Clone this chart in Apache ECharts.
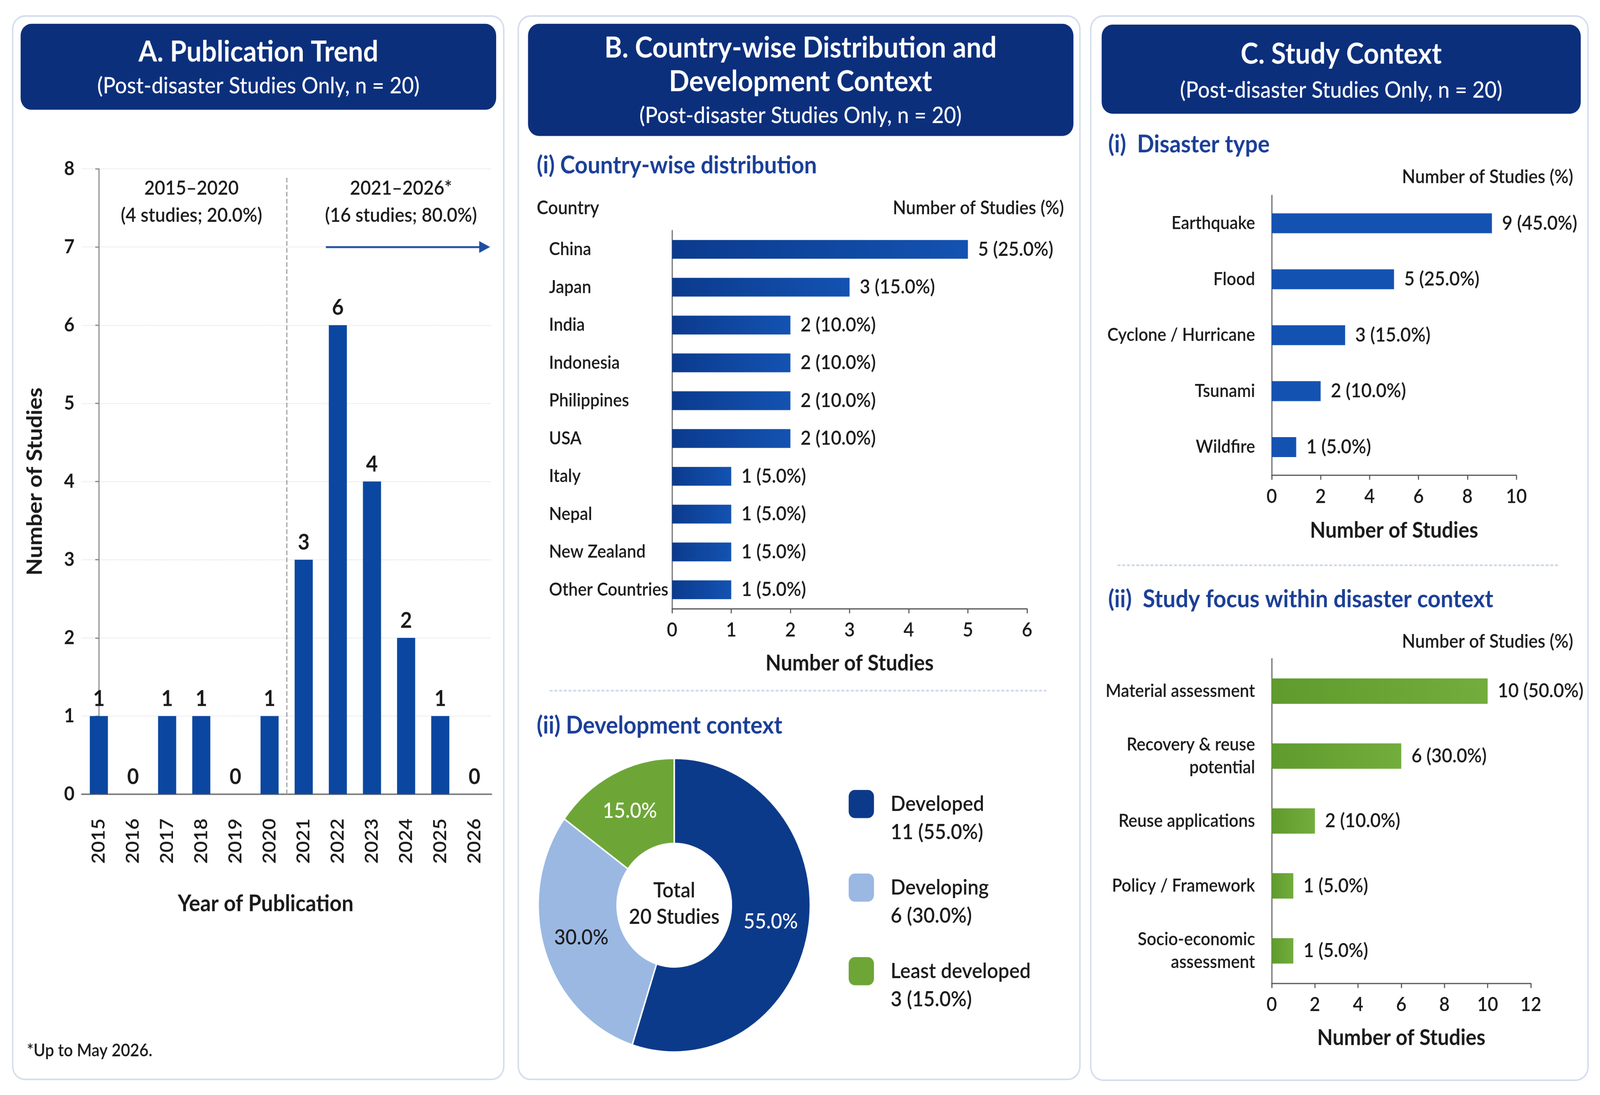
<!DOCTYPE html>
<html>
<head>
<meta charset="utf-8">
<title>Post-disaster studies overview</title>
<script src="https://cdn.jsdelivr.net/npm/echarts@6/dist/echarts.min.js"></script>
<style>
  html, body { margin: 0; padding: 0; background: #ffffff; overflow: hidden; }
  #chart { position: absolute; left: 0; top: 0; width: 4422px; height: 2803px; transform-origin: 0 0; }
</style>
</head>
<body>
<div id="chart"></div>
<script>
// ---- data ----
var totalStudies = 20;

// A. publication trend
var years = ['2015', '2016', '2017', '2018', '2019', '2020', '2021', '2022', '2023', '2024', '2025', '2026'];
var yearCounts = [1, 0, 1, 1, 0, 1, 3, 6, 4, 2, 1, 0];
var yearTicks = [0, 1, 2, 3, 4, 5, 6, 7, 8];

// B(i) countries
var countries = ['China', 'Japan', 'India', 'Indonesia', 'Philippines', 'USA', 'Italy', 'Nepal', 'New Zealand', 'Other Countries'];
var countryCounts = [5, 3, 2, 2, 2, 2, 1, 1, 1, 1];
var countryTicks = [0, 1, 2, 3, 4, 5, 6];

// B(ii) development context
var devLevels = ['Developed', 'Developing', 'Least developed'];
var devCounts = [11, 6, 3];
var devColors = ['#0c3a8a', '#9ab8e2', '#6da637'];

// C(i) disaster type
var disasterTypes = ['Earthquake', 'Flood', 'Cyclone / Hurricane', 'Tsunami', 'Wildfire'];
var disasterCounts = [9, 5, 3, 2, 1];
var disasterTicks = [0, 2, 4, 6, 8, 10];

// C(ii) study focus
var focusAreas = ['Material assessment', 'Recovery & reuse\npotential', 'Reuse applications', 'Policy / Framework', 'Socio-economic\nassessment'];
var focusCounts = [10, 6, 2, 1, 1];
var focusTicks = [0, 2, 4, 6, 8, 10, 12];

// ---- helpers ----
var W = 4422, H = 2803;
var FONT = 'Lato, "Noto Sans", sans-serif';
var INK = '#1a1a1a';
var NAVY = '#0c2f7c';
var SUBBLUE = '#1b3f97';
var LBL = 600;

function pct(v) {
  return (v / totalStudies * 100).toFixed(1);
}

function countLabel(p) {
  return p.value + ' (' + pct(p.value) + '%)';
}

function txt(x, y, text, size, weight, color, align) {
  return {
    type: 'text',
    x: x,
    y: y,
    z: 20,
    style: {
      text: text,
      fontSize: size,
      fontWeight: weight,
      fontFamily: FONT,
      fill: color,
      textAlign: align || 'center',
      align: align || 'center',
      textVerticalAlign: 'middle',
      verticalAlign: 'middle'
    }
  };
}

function card(x, y, w, h) {
  return {
    type: 'rect', z: -10,
    shape: { x: x, y: y, width: w, height: h, r: 34 },
    style: { fill: '#ffffff', stroke: '#d3ddef', lineWidth: 4 }
  };
}

function header(x, y, w, h) {
  return {
    type: 'rect', z: -5,
    shape: { x: x, y: y, width: w, height: h, r: 30 },
    style: { fill: NAVY }
  };
}

function divider(x1, x2, y) {
  return {
    type: 'line', z: -5,
    shape: { x1: x1, y1: y, x2: x2, y2: y },
    style: { stroke: '#c7d4ee', lineWidth: 4, lineDash: [8, 5] }
  };
}

function sumRange(arr, a, b) {
  var s = 0;
  for (var i = a; i < b; i++) s += arr[i];
  return s;
}

var early = sumRange(yearCounts, 0, 6);
var late = sumRange(yearCounts, 6, years.length);

function hBarAxes(gridIndex, cats, ticks, labelAlign, labelMargin, labelLine, nameGap) {
  return {
    x: {
      type: 'value', gridIndex: gridIndex,
      min: ticks[0], max: ticks[ticks.length - 1], interval: ticks[1] - ticks[0],
      axisLine: { show: true, lineStyle: { color: '#555', width: 3 } },
      axisTick: { show: true, length: 12, lineStyle: { color: '#555', width: 3 } },
      splitLine: { show: false },
      axisLabel: { fontSize: 50, color: INK, fontWeight: LBL, fontFamily: FONT, margin: 30 },
      name: 'Number of Studies', nameLocation: 'middle', nameGap: nameGap || 104,
      nameTextStyle: { fontSize: 56, fontWeight: 'bold', color: INK, fontFamily: FONT }
    },
    y: {
      type: 'category', gridIndex: gridIndex, data: cats, inverse: true,
      axisLine: { show: true, lineStyle: { color: '#666', width: 3 } },
      axisTick: { show: false },
      axisLabel: {
        fontSize: 46, color: INK, fontWeight: LBL, fontFamily: FONT,
        align: labelAlign, margin: labelMargin, lineHeight: labelLine || 56
      }
    }
  };
}

var axB = hBarAxes(1, countries, countryTicks, 'left', 340, 56, 112);
var axC1 = hBarAxes(2, disasterTypes, disasterTicks, 'right', 46, 56, 114);
var axC2 = hBarAxes(3, focusAreas, focusTicks, 'right', 46, 58, 112);

// the browser window may not be 4422 css pixels wide; stretch the canvas to fill it
var el = document.getElementById('chart');
var sx = window.innerWidth / W;
var sy = window.innerHeight / H;
el.style.transform = 'scale(' + sx + ',' + sy + ')';
var dpr = Math.max(1, 1 / Math.min(sx, sy));

var chart = echarts.init(el, null, { width: W, height: H, devicePixelRatio: dpr });

var barLabel = { show: true, position: 'right', distance: 28, formatter: countLabel, fontSize: 50, fontWeight: LBL, color: INK, fontFamily: FONT };

var option = {
  animation: false,
  backgroundColor: '#ffffff',
  textStyle: { fontFamily: FONT },
  grid: [
    { left: 226, right: 3064, top: 432, bottom: 770, outerBoundsMode: 'none' },
    { left: 1857, right: 1584, top: 590, bottom: 1245, outerBoundsMode: 'none' },
    { left: 3514, right: 232, top: 500, bottom: 1587, outerBoundsMode: 'none' },
    { left: 3514, right: 192, top: 1686, bottom: 286, outerBoundsMode: 'none' }
  ],
  xAxis: [
    {
      type: 'category', gridIndex: 0, data: years,
      axisLine: { show: true, lineStyle: { color: '#7a7a7a', width: 4 } },
      axisTick: { show: false },
      axisLabel: { rotate: 90, fontSize: 50, color: INK, fontWeight: LBL, fontFamily: FONT, margin: 62, interval: 0 },
      name: 'Year of Publication', nameLocation: 'middle', nameGap: 252,
      nameTextStyle: { fontSize: 58, fontWeight: 'bold', color: INK, fontFamily: FONT, padding: [0, 116, 0, 0] }
    },
    axB.x, axC1.x, axC2.x,
    // helper value axis over panel A for the period divider and arrow
    { type: 'value', gridIndex: 0, min: -0.5, max: 11.5, show: false }
  ],
  yAxis: [
    {
      type: 'value', gridIndex: 0,
      min: yearTicks[0], max: yearTicks[yearTicks.length - 1], interval: 1,
      axisLine: { show: true, lineStyle: { color: '#8a8a8a', width: 3 } },
      axisTick: { show: true, length: 10, lineStyle: { color: '#8a8a8a', width: 3 } },
      splitLine: { show: true, lineStyle: { color: '#dcdcdc', width: 2, type: 'dotted' } },
      axisLabel: { fontSize: 50, color: INK, fontWeight: 'bold', fontFamily: FONT, margin: 20 },
      name: 'Number of Studies', nameLocation: 'middle', nameGap: 100,
      nameTextStyle: { fontSize: 58, fontWeight: 'bold', color: INK, fontFamily: FONT }
    },
    axB.y, axC1.y, axC2.y,
    { type: 'value', gridIndex: 0, min: 0, max: 8, show: false }
  ],
  legend: {
    data: devLevels,
    orient: 'vertical',
    left: 2343,
    top: 1958,
    padding: 0,
    itemWidth: 72,
    itemHeight: 74,
    itemGap: 14,
    icon: 'roundRect',
    selectedMode: false,
    formatter: function (name) {
      var v = devCounts[devLevels.indexOf(name)];
      return '{e| }\n{a|' + name + '}\n{a|' + v + ' (' + pct(v) + '%)}';
    },
    textStyle: {
      padding: [0, 0, 0, 40],
      rich: {
        e: { fontSize: 54, lineHeight: 73 },
        a: { fontSize: 54, lineHeight: 73, color: INK, fontFamily: FONT, fontWeight: LBL }
      }
    }
  },
  series: [
    {
      name: 'Publications', type: 'bar', xAxisIndex: 0, yAxisIndex: 0,
      data: yearCounts, barWidth: 50,
      itemStyle: { color: '#0b47a0' },
      label: { show: true, position: 'top', distance: 16, fontSize: 56, fontWeight: 'bold', color: INK, fontFamily: FONT }
    },
    {
      name: 'period divider', type: 'line', xAxisIndex: 4, yAxisIndex: 4, data: [], silent: true,
      markLine: {
        silent: true, symbol: ['none', 'none'], label: { show: false },
        lineStyle: { color: '#9a9a9a', width: 3, type: 'dashed' },
        data: [[{ coord: [5.5, 0] }, { coord: [5.5, 7.9] }]]
      }
    },
    {
      name: 'trend arrow', type: 'line', xAxisIndex: 4, yAxisIndex: 4, data: [], silent: true,
      markLine: {
        silent: true, symbol: ['none', 'triangle'], symbolSize: [30, 30], label: { show: false },
        lineStyle: { color: '#1f4ea0', width: 5, type: 'solid' },
        data: [[{ coord: [6.65, 7] }, { coord: [11.3, 7] }]]
      }
    },
    {
      name: 'Countries', type: 'bar', xAxisIndex: 1, yAxisIndex: 1,
      data: countryCounts, barWidth: 48,
      itemStyle: {
        color: new echarts.graphic.LinearGradient(0, 0, 1, 0, [
          { offset: 0, color: '#0b3b8e' }, { offset: 1, color: '#1453b2' }
        ])
      },
      label: barLabel
    },
    {
      name: 'Development context', type: 'pie',
      center: [1863, 2317], radius: [158, 376],
      startAngle: 90, clockwise: true,
      data: devLevels.map(function (n, i) {
        return {
          name: n, value: devCounts[i],
          itemStyle: { color: devColors[i] },
          label: { color: i === 1 ? INK : '#ffffff' }
        };
      }),
      itemStyle: { borderColor: '#ffffff', borderWidth: 4 },
      label: {
        show: true, position: 'inside', fontSize: 54, fontWeight: 500, fontFamily: FONT,
        formatter: function (p) { return pct(p.value) + '%'; }
      },
      labelLine: { show: false },
      emphasis: { disabled: true }
    },
    {
      name: 'Disaster type', type: 'bar', xAxisIndex: 2, yAxisIndex: 2,
      data: disasterCounts, barWidth: 51,
      itemStyle: { color: '#1452b2' },
      label: barLabel
    },
    {
      name: 'Study focus', type: 'bar', xAxisIndex: 3, yAxisIndex: 3,
      data: focusCounts, barWidth: 65,
      itemStyle: {
        color: new echarts.graphic.LinearGradient(0, 0, 1, 0, [
          { offset: 0, color: '#5f9b2d' }, { offset: 1, color: '#73ad3d' }
        ])
      },
      label: barLabel
    }
  ],
  graphic: [
    // cards
    card(35, 41, 1357, 2722),
    card(1432, 41, 1552, 2722),
    card(3014, 41, 1374, 2724),
    // header boxes
    header(57, 61, 1314, 220),
    header(1459, 61, 1507, 287),
    header(3044, 63, 1324, 228),
    txt(714, 134, 'A. Publication Trend', 74, 'bold', '#ffffff'),
    txt(714, 220, '(Post-disaster Studies Only, n = ' + totalStudies + ')', 58, 500, '#ffffff'),
    txt(2212, 123, 'B. Country-wise Distribution and', 74, 'bold', '#ffffff'),
    txt(2212, 210, 'Development Context', 74, 'bold', '#ffffff'),
    txt(2212, 296, '(Post-disaster Studies Only, n = ' + totalStudies + ')', 58, 500, '#ffffff'),
    txt(3706, 139, 'C. Study Context', 74, 'bold', '#ffffff'),
    txt(3706, 231, '(Post-disaster Studies Only, n = ' + totalStudies + ')', 58, 500, '#ffffff'),
    // panel A annotations
    txt(529, 482, '2015\u20132020', 50, LBL, INK),
    txt(529, 552, '(' + early + ' studies; ' + pct(early) + '%)', 50, LBL, INK),
    txt(1108, 482, '2021\u20132026*', 50, LBL, INK),
    txt(1108, 552, '(' + late + ' studies; ' + pct(late) + '%)', 50, LBL, INK),
    txt(74, 2690, '*Up to May 2026.', 44, LBL, INK, 'left'),
    // panel B
    txt(1483, 424, '(i) Country-wise distribution', 62, 'bold', SUBBLUE, 'left'),
    txt(1483, 533, 'Country', 48, LBL, INK, 'left'),
    txt(2940, 533, 'Number of Studies (%)', 48, LBL, INK, 'right'),
    divider(1519, 2891, 1768),
    txt(1483, 1858, '(ii) Development context', 62, 'bold', SUBBLUE, 'left'),
    txt(1863, 2280, 'Total', 54, LBL, INK),
    txt(1863, 2347, totalStudies + ' Studies', 54, LBL, INK),
    // panel C
    txt(3062, 370, '(i)  Disaster type', 62, 'bold', SUBBLUE, 'left'),
    txt(4347, 453, 'Number of Studies (%)', 48, LBL, INK, 'right'),
    divider(3088, 4309, 1447),
    txt(3062, 1534, '(ii)  Study focus within disaster context', 62, 'bold', SUBBLUE, 'left'),
    txt(4347, 1643, 'Number of Studies (%)', 48, LBL, INK, 'right')
  ]
};

chart.setOption(option);
</script>
</body>
</html>
